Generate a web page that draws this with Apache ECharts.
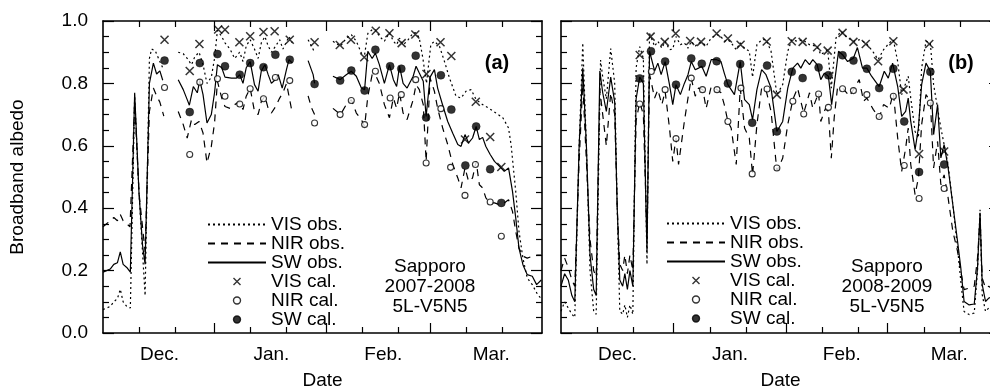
<!DOCTYPE html>
<html>
<head>
<meta charset="utf-8">
<script src="https://cdn.jsdelivr.net/npm/echarts@6/dist/echarts.min.js"></script>
<style>
html, body { margin: 0; padding: 0; background: #fff; }
#chart { width: 990px; height: 390px; }
</style>
</head>
<body>
<div id="chart"></div>
<script>
// days counted from 1 Dec; '-' = no observation
var monthNames = ['Dec.', 'Jan.', 'Feb.', 'Mar.'];
var labelDaysA = [15.7, 46.8, 77.9, 107.9];
var labelDaysB = [15.6, 46.6, 77.4, 107];
var minorTicksA = [10, 20, 41, 51, 72, 82, 101, 111];
var majorTicksA = [31, 62, 91];
var minorTicksB = [10, 20, 41, 51, 72, 82, 100, 110];
var majorTicksB = [31, 62, 90];
var seriesNames = ['VIS obs.', 'NIR obs.', 'SW obs.', 'VIS cal.', 'NIR cal.', 'SW cal.'];

// ---- 2007-2008 (a)
var swObsA = [[0,0.195],[1,0.2],[2,0.205],[3,0.22],[4,0.225],[4.8,0.26],[5.6,0.22],[6.6,0.21],[7.6,0.195],[8.8,0.77],[10,0.45],[11,0.28],[11.7,0.22],[12.9,0.8],[14,0.865],[14.9,0.83],[15.8,0.84],[16.6,0.81],[18,'-'],
  [20.9,0.812],[22.3,0.78],[23.4,0.748],[24,0.73],[25.1,0.79],[26.2,0.77],[26.9,0.81],[27.8,0.764],[28.9,0.673],[30.1,0.7],[31,0.77],[31.8,0.86],[33,0.85],[33.9,0.82],[35.7,0.817],[37.1,0.817],[38,0.828],[38.9,0.8],[39.8,0.85],[40.9,0.87],[42.1,0.796],[43.1,0.775],[44,0.84],[45,0.86],[45.9,0.828],[46.8,0.8],[47.7,0.81],[48.7,0.828],[49.8,0.785],[51,0.845],[51.7,0.876],[52.6,0.865],[54,'-'],[57,0.873],[58.4,0.828],[58.8,0.8],[61,'-'],
  [63.9,0.823],[65.9,0.812],[67.6,0.828],[69,0.839],[70.4,0.823],[71.8,0.785],[72.7,0.78],[73.6,0.903],[74.8,0.88],[75.7,0.897],[76.8,0.86],[78.2,0.8],[79.6,0.86],[80.7,0.812],[81.6,0.79],[82.4,0.855],[83.4,0.8],[84.5,0.785],[86.2,0.823],[87,0.855],[87.9,0.833],[89,0.807],[89.8,0.694],[90.9,0.82],[92.1,0.844],[93,0.785],[94.4,0.73],[95.8,0.678],[97.2,0.64],[98.6,0.604],[99.5,0.598],[100.6,0.636],[101.6,0.609],[102.7,0.625],[103.7,0.662],[104.6,0.62],[105.5,0.627],[106.4,0.598],[107.6,0.572],[108.8,0.55],[110.2,0.534],[111.5,0.518],[112.7,0.529],[113.8,0.454],[114.7,0.369],[115.6,0.272],[116.7,0.219],[117.9,0.187],[119.3,0.182],[120.5,0.155],[121.8,0.17]];
var nirObsA = [[0,0.34],[1,0.35],[2,0.36],[3,0.37],[4,0.36],[4.8,0.38],[5.6,0.36],[6.6,0.35],[7.5,0.34],[8.8,0.74],[10,0.45],[11.7,0.26],[12.9,0.71],[14,0.785],[14.9,0.76],[15.8,0.74],[16.9,0.695],[18,'-'],
  [20.9,0.71],[22.3,0.668],[23.4,0.625],[24.6,0.684],[25.5,0.668],[26.7,0.678],[27.8,0.641],[28.9,0.545],[30.1,0.598],[31,0.673],[31.8,0.807],[33,0.753],[33.9,0.726],[35.3,0.72],[36.6,0.732],[38,0.742],[38.9,0.716],[39.8,0.759],[40.9,0.785],[42.1,0.71],[43.1,0.7],[44,0.742],[45,0.759],[45.9,0.72],[46.8,0.705],[48,0.726],[49.1,0.753],[50,0.77],[51,0.8],[52.6,0.705],[54,'-'],[57,0.76],[58,0.72],[58.8,0.7],[61,'-'],
  [63.9,0.72],[66,0.7],[67.6,0.732],[69,0.748],[70.4,0.705],[71.8,0.684],[72.7,0.662],[73.6,0.759],[74.8,0.828],[75.7,0.828],[76.8,0.8],[78.2,0.732],[79.6,0.69],[80.7,0.753],[81.6,0.72],[82.4,0.77],[83.4,0.705],[84.5,0.684],[86.2,0.748],[87,0.796],[87.9,0.78],[89,0.732],[89.8,0.55],[90.9,0.817],[92.1,0.775],[93,0.72],[94.4,0.657],[95.8,0.604],[97.2,0.54],[98.6,0.497],[99.5,0.465],[100.6,0.529],[101.6,0.486],[102.7,0.497],[103.7,0.55],[104.6,0.475],[105.5,0.465],[106.4,0.433],[107.6,0.417],[108.8,0.417],[110.2,0.411],[111.5,0.417],[112.7,0.427],[113.8,0.39],[114.7,0.326],[115.6,0.272],[116.7,0.246],[117.9,0.24],[119.3,0.246],[120.8,0.25],[121.8,0.25]];
var visObsA = [[0,0.075],[1,0.08],[2,0.085],[3,0.1],[4,0.11],[4.8,0.14],[5.6,0.1],[6.6,0.085],[7.6,0.08],[8.8,0.76],[10,0.45],[11.7,0.12],[12.9,0.88],[13.5,0.91],[14.5,0.905],[15.8,0.87],[16.6,0.85],[18,'-'],
  [20.9,0.9],[22.3,0.895],[23.4,0.88],[24.6,0.86],[25.5,0.885],[26.7,0.9],[27.8,0.86],[28.9,0.8],[30.1,0.82],[31,0.88],[31.8,0.97],[33,0.95],[33.9,0.93],[35.3,0.91],[36.6,0.88],[38,0.9],[38.9,0.87],[39.8,0.92],[40.9,0.94],[42.1,0.91],[43.1,0.88],[44,0.93],[45,0.95],[45.9,0.92],[46.8,0.9],[48,0.92],[49.1,0.94],[50,0.91],[51.7,0.95],[52.6,0.93],[54,'-'],[57,0.94],[58.8,0.9],[61,'-'],
  [63.9,0.935],[66,0.919],[67.6,0.945],[69,0.956],[70.4,0.935],[71.8,0.897],[72.7,0.892],[73.6,0.96],[74.8,0.972],[75.7,0.972],[76.8,0.951],[78.2,0.935],[79.6,0.962],[80.7,0.935],[81.6,0.924],[82.4,0.945],[83.4,0.924],[84.5,0.935],[86.2,0.962],[87,0.962],[87.9,0.945],[88.9,0.88],[89.9,0.8],[91.1,0.924],[92.1,0.935],[93.5,0.919],[94.9,0.87],[96.3,0.817],[98.1,0.759],[99.5,0.753],[100.9,0.775],[102.3,0.78],[103.7,0.748],[105.5,0.732],[107.3,0.72],[109.2,0.705],[111.1,0.69],[112.7,0.657],[113.4,0.604],[114.7,0.454],[115.6,0.326],[116.7,0.24],[117.9,0.176],[119.3,0.155],[120.8,0.123],[121.8,0.11]];
var visCalA = [[17.1,0.94],[24.1,0.84],[26.8,0.926],[32,0.973],[33.9,0.972],[37.9,0.932],[40.9,0.951],[44.6,0.965],[47.7,0.967],[51.9,0.94],[58.8,0.932],[65.8,0.923],[68.9,0.94],[72.6,0.884],[75.8,0.969],[79.6,0.961],[83,0.929],[86.8,0.957],[89.9,0.83],[93.8,0.932],[96.8,0.888],[100.6,0.62],[103.6,0.741],[107.6,0.628],[110.7,0.532]];
var nirCalA = [[17.1,0.787],[24.1,0.572],[26.9,0.804],[31.8,0.815],[33.9,0.759],[38,0.734],[40.9,0.783],[44.6,0.751],[47.9,0.819],[51.9,0.809],[58.8,0.673],[65.9,0.7],[69,0.745],[72.7,0.668],[75.7,0.839],[79.8,0.753],[82.9,0.764],[86.9,0.812],[89.8,0.545],[93.9,0.719],[96.6,0.531],[100.6,0.441],[103.5,0.54],[107.6,0.42],[110.7,0.31]];
var swCalA = [[17.1,0.873],[24.1,0.708],[26.9,0.865],[31.8,0.894],[33.9,0.855],[38,0.828],[40.9,0.865],[44.6,0.852],[47.9,0.892],[51.9,0.876],[58.8,0.798],[65.9,0.809],[69,0.841],[72.7,0.777],[75.7,0.908],[79.8,0.855],[82.9,0.847],[86.9,0.889],[89.8,0.691],[93.9,0.826],[96.8,0.716],[100.7,0.537],[103.7,0.662],[107.6,0.525],[110.7,0.417]];

// ---- 2008-2009 (b)
var swObsB = [[0,0.15],[1,0.19],[2,0.17],[3,0.12],[3.8,0.1],[5,0.6],[6,0.85],[7,0.6],[8,0.25],[9,0.14],[9.7,0.12],[10.7,0.84],[11.5,0.77],[12.5,0.71],[13.7,0.82],[14.8,0.74],[15.5,0.4],[16.2,0.17],[17,0.15],[17.6,0.19],[18.3,0.14],[19,0.2],[19.8,0.15],[20.7,0.75],[21.7,0.82],[22.7,0.8],[23.7,0.26],[24.4,0.903],[25.8,0.84],[26.7,0.865],[27.6,0.828],[28.7,0.87],[29.9,0.796],[30.8,0.732],[31.7,0.796],[32.9,0.764],[34,0.8],[35,0.828],[35.9,0.87],[37,0.844],[37.9,0.849],[38.8,0.855],[40,0.823],[41.4,0.876],[42.9,0.876],[44.1,0.87],[45,0.833],[46,0.796],[46.9,0.78],[47.8,0.764],[49.4,0.87],[50.6,0.748],[51.9,0.732],[52.8,0.684],[54,0.78],[55.3,0.844],[56.5,0.828],[57.9,0.785],[59.5,0.646],[61.1,0.678],[62.5,0.785],[63.9,0.849],[65.2,0.865],[66.1,0.849],[67.3,0.876],[68.5,0.86],[69.4,0.876],[70.6,0.86],[71.6,0.812],[72.6,0.833],[73.7,0.823],[74.6,0.732],[76.5,0.903],[77.6,0.892],[79,0.87],[80.6,0.881],[81.7,0.915],[83.1,0.849],[84.3,0.849],[85.6,0.823],[87.7,0.79],[89.1,0.839],[90.2,0.817],[91.4,0.865],[92.8,0.79],[93.9,0.694],[95,0.71],[95.7,0.753],[96.4,0.678],[97.6,0.588],[98.5,0.657],[99.4,0.796],[100.6,0.865],[101.8,0.839],[102.7,0.636],[103.8,0.732],[104.7,0.561],[105.6,0.604],[106.7,0.529],[108,0.411],[109.3,0.294],[110.2,0.208],[111.1,0.101],[112.5,0.09],[113.9,0.093],[114.8,0.208],[115.5,0.385],[116.1,0.155],[117,0.101],[117.9,0.112],[118.9,0.115]];
var nirObsB = [[0,0.2],[1,0.24],[2,0.21],[3,0.17],[3.8,0.15],[5,0.55],[6,0.8],[7,0.55],[8,0.3],[9,0.2],[9.7,0.18],[10.7,0.78],[11.5,0.7],[12.5,0.6],[13.7,0.77],[14.8,0.7],[15.5,0.4],[16.2,0.22],[17,0.2],[17.6,0.25],[18.3,0.19],[19,0.25],[19.8,0.2],[20.7,0.68],[21.7,0.74],[22.7,0.7],[23.7,0.3],[24.4,0.83],[25.8,0.753],[26.7,0.78],[27.8,0.732],[28.7,0.775],[29.9,0.657],[30.8,0.55],[31.7,0.625],[32.4,0.54],[34,0.678],[35,0.753],[35.9,0.817],[37,0.759],[37.9,0.785],[39.1,0.78],[40,0.72],[41.4,0.79],[43,0.78],[44.1,0.77],[45,0.732],[46,0.678],[46.9,0.657],[48.3,0.54],[49.4,0.785],[50.6,0.657],[51.9,0.625],[52.8,0.507],[54,0.668],[55.3,0.785],[56.5,0.78],[57.9,0.71],[59.5,0.52],[61.1,0.56],[62.5,0.668],[63.9,0.748],[65.2,0.785],[66.9,0.705],[68.5,0.77],[69.4,0.72],[71,0.77],[71.6,0.678],[72.9,0.72],[73.7,0.71],[74.5,0.56],[75.3,0.69],[76.2,0.785],[77.6,0.785],[79.5,0.759],[80.6,0.78],[82.2,0.812],[83.4,0.743],[84.3,0.753],[86.1,0.716],[87.7,0.69],[88.9,0.732],[90.5,0.72],[91.6,0.77],[92.8,0.625],[93.9,0.518],[95,0.593],[95.7,0.657],[96.4,0.54],[97.6,0.443],[98.5,0.497],[99.4,0.668],[100.6,0.764],[101.8,0.743],[102.7,0.529],[103.8,0.614],[104.7,0.475],[105.6,0.507],[106.7,0.433],[108,0.326],[109.3,0.262],[110.2,0.198],[111.1,0.139],[112.5,0.144],[113.9,0.15],[114.8,0.24],[115.5,0.369],[116.1,0.176],[117,0.144],[117.9,0.15],[118.9,0.14]];
var visObsB = [[0,0.07],[1,0.1],[2,0.08],[3,0.06],[3.8,0.05],[5,0.6],[6,0.93],[7,0.6],[8,0.2],[9,0.07],[9.7,0.06],[10.9,0.875],[11.5,0.82],[12.5,0.75],[13.7,0.912],[14.8,0.8],[15.5,0.4],[16.2,0.07],[17,0.06],[17.6,0.09],[18.3,0.05],[19,0.09],[19.8,0.06],[20.7,0.85],[21.7,0.918],[22.7,0.88],[23.7,0.22],[24.4,0.96],[25.8,0.919],[26.7,0.935],[27.8,0.913],[28.7,0.935],[29.9,0.908],[30.8,0.91],[31.7,0.95],[32.9,0.924],[34,0.93],[35,0.913],[35.9,0.935],[37,0.919],[37.9,0.93],[39.1,0.93],[40,0.919],[41.4,0.946],[43,0.956],[44.1,0.95],[45,0.935],[46,0.94],[46.9,0.93],[48.3,0.908],[49.4,0.93],[50.6,0.913],[51.9,0.903],[52.8,0.82],[54,0.924],[55.3,0.94],[56.5,0.94],[57.9,0.903],[59.5,0.764],[61.1,0.796],[62.5,0.903],[63.6,0.94],[65.2,0.935],[66.6,0.94],[68.5,0.924],[70.6,0.919],[71.6,0.892],[73.5,0.908],[74.5,0.785],[75.8,0.946],[77.2,0.967],[79,0.946],[80.6,0.935],[82.2,0.94],[84,0.93],[85.9,0.903],[87.4,0.876],[88.9,0.908],[90.5,0.93],[91.6,0.94],[92.8,0.87],[93.9,0.764],[95,0.8],[95.7,0.823],[96.4,0.753],[97.6,0.646],[98.5,0.625],[99.4,0.849],[100.6,0.935],[101.8,0.93],[102.7,0.796],[103.8,0.72],[104.7,0.657],[105.6,0.604],[106.7,0.54],[108,0.411],[109.3,0.272],[110.2,0.166],[111.1,0.069],[112.5,0.059],[113.9,0.064],[114.8,0.198],[115.5,0.395],[116.1,0.123],[117,0.069],[117.9,0.08],[118.9,0.07]];
var visCalB = [[21.7,0.891],[24.7,0.95],[28.6,0.933],[31.6,0.96],[35.6,0.936],[38.6,0.933],[42.9,0.96],[46,0.944],[49.5,0.924],[56.7,0.934],[59.5,0.764],[63.6,0.935],[66.6,0.933],[70.6,0.916],[73.5,0.905],[77.6,0.962],[80.6,0.933],[84,0.926],[87.4,0.871],[91.6,0.935],[94.4,0.78],[98.7,0.574],[101.5,0.926],[105.6,0.582]];
var nirCalB = [[21.7,0.734],[24.9,0.838],[28.7,0.78],[31.7,0.623],[35.9,0.817],[39,0.78],[43,0.78],[46,0.678],[49.6,0.785],[52.7,0.51],[56.8,0.782],[59.5,0.529],[63.9,0.743],[66.9,0.702],[71,0.766],[73.7,0.723],[77.6,0.783],[80.6,0.777],[84.3,0.764],[87.7,0.694],[91.6,0.759],[94.6,0.537],[98.7,0.431],[101.8,0.737],[105.6,0.463]];
var swCalB = [[21.7,0.816],[24.8,0.903],[28.7,0.87],[31.7,0.796],[35.9,0.88],[38.8,0.863],[42.9,0.871],[46,0.8],[49.4,0.862],[52.7,0.674],[56.8,0.857],[59.5,0.646],[63.6,0.837],[66.6,0.817],[71,0.851],[73.7,0.826],[77.6,0.89],[80.6,0.873],[84.3,0.847],[87.7,0.785],[91.6,0.847],[94.6,0.678],[98.7,0.516],[101.8,0.837],[105.6,0.54]];

var FONT = '"Liberation Sans", Arial, Helvetica, sans-serif';
var BLACK = '#000';
var axisLine = { show: true, onZero: false, lineStyle: { color: BLACK, width: 1.6 } };
var tickLine = { color: BLACK, width: 1.2 };

function xAxesFor(g, maxDay, minor, major, labelDays) {
    var base = {
        type: 'value', gridIndex: g, min: 0, max: maxDay,
        splitLine: { show: false }, axisLabel: { show: false }
    };
    var main = Object.assign({}, base, {
        position: 'bottom',
        axisLine: axisLine,
        axisTick: { show: true, inside: true, length: 6, customValues: minor, lineStyle: tickLine },
        axisLabel: {
            show: true, customValues: labelDays, margin: 12,
            color: BLACK, fontSize: 19, fontFamily: FONT,
            formatter: function (v) { return monthNames[labelDays.indexOf(v)]; }
        },
        name: 'Date', nameLocation: 'middle', nameGap: 38, nameMoveOverlap: false,
        nameTextStyle: { color: BLACK, fontSize: 19, fontFamily: FONT }
    });
    var mainMajor = Object.assign({}, base, {
        position: 'bottom', axisLine: { show: false, onZero: false },
        axisTick: { show: true, inside: true, length: 10, customValues: major, lineStyle: tickLine }
    });
    var top = Object.assign({}, base, {
        position: 'top', axisLine: axisLine,
        axisTick: { show: true, inside: true, length: 6, customValues: minor, lineStyle: tickLine }
    });
    var topMajor = Object.assign({}, base, {
        position: 'top', axisLine: { show: false, onZero: false },
        axisTick: { show: true, inside: true, length: 10, customValues: major, lineStyle: tickLine }
    });
    return [main, mainMajor, top, topMajor];
}

function yAxesFor(g, withLabels) {
    var base = {
        type: 'value', gridIndex: g, min: 0, max: 1, interval: 0.2,
        axisLine: axisLine,
        axisTick: { show: true, inside: true, length: 11, lineStyle: tickLine },
        minorTick: { show: true, splitNumber: 4, length: 6, lineStyle: tickLine },
        splitLine: { show: false }
    };
    var left = Object.assign({}, base, {
        position: 'left',
        axisLabel: {
            show: withLabels, margin: 15, color: BLACK, fontSize: 19, fontFamily: FONT,
            formatter: function (v) { return v.toFixed(1); }
        }
    });
    if (withLabels) {
        left.name = 'Broadband albedo';
        left.nameLocation = 'middle';
        left.nameGap = 76;
        left.nameMoveOverlap = false;
        left.nameTextStyle = { color: BLACK, fontSize: 19, fontFamily: FONT };
    }
    var right = Object.assign({}, base, { position: 'right', axisLabel: { show: false } });
    return [left, right];
}

function obsLine(name, data, g, dash) {
    return {
        type: 'line', name: name, data: data,
        xAxisIndex: g * 4, yAxisIndex: g * 2,
        symbol: 'none', connectNulls: false, animation: false, z: 2,
        itemStyle: { color: BLACK },
        lineStyle: { color: BLACK, width: 1.2, type: dash }
    };
}

function calPoints(name, data, g, kind) {
    var s = {
        type: 'scatter', name: name, data: data,
        xAxisIndex: g * 4, yAxisIndex: g * 2, animation: false, z: 3
    };
    if (kind === 'x') {
        s.symbol = 'path://M0,0L10,10M10,0L0,10';
        s.symbolSize = 8;
        s.itemStyle = { color: 'none', borderColor: BLACK, borderWidth: 1.5 };
    } else if (kind === 'o') {
        s.symbol = 'circle';
        s.symbolSize = 6;
        s.itemStyle = { color: '#fff', borderColor: BLACK, borderWidth: 1.1 };
    } else {
        s.symbol = 'circle';
        s.symbolSize = 8;
        s.itemStyle = { color: BLACK, borderColor: BLACK, borderWidth: 0.5 };
    }
    return s;
}

function panelSeries(g, vis, nir, sw, visC, nirC, swC) {
    return [
        obsLine(seriesNames[0], vis, g, [2, 3]),
        obsLine(seriesNames[1], nir, g, [7, 6]),
        obsLine(seriesNames[2], sw, g, 'solid'),
        calPoints(seriesNames[3], visC, g, 'x'),
        calPoints(seriesNames[4], nirC, g, 'o'),
        calPoints(seriesNames[5], swC, g, 'dot')
    ];
}

function legendAt(left, top) {
    // line entries: hide the marker ECharts puts in the middle of a line icon
    var items = seriesNames.map(function (n, i) {
        return i < 3 ? { name: n, itemStyle: { opacity: 0 } } : { name: n };
    });
    return {
        left: left, top: top, orient: 'vertical',
        itemWidth: 58, itemHeight: 7, itemGap: 0,
        selectedMode: false, data: items,
        itemStyle: { borderWidth: 1.4 },
        textStyle: { color: BLACK, fontSize: 19, fontFamily: FONT, lineHeight: 18.6 }
    };
}

function label(x, y, text, font) {
    return {
        type: 'text', x: x, y: y, z: 10,
        style: { text: text, font: font, fill: BLACK, align: 'center', verticalAlign: 'middle', lineHeight: 20 }
    };
}

var myChart = echarts.init(document.getElementById('chart'), null, { renderer: 'canvas' });
var option = {
    backgroundColor: '#fff',
    animation: false,
    grid: [
        { left: 103, top: 21, width: 439, height: 312, outerBoundsMode: 'none' },
        { left: 561, top: 21, width: 439, height: 312, outerBoundsMode: 'none' }
    ],
    xAxis: xAxesFor(0, 122, minorTicksA, majorTicksA, labelDaysA)
        .concat(xAxesFor(1, 121, minorTicksB, majorTicksB, labelDaysB)),
    yAxis: yAxesFor(0, true).concat(yAxesFor(1, false)),
    legend: [legendAt(202, 210), legendAt(661, 209)],
    graphic: [
        label(430, 287, 'Sapporo\n2007-2008\n5L-V5N5', '19px ' + FONT),
        label(887, 287, 'Sapporo\n2008-2009\n5L-V5N5', '19px ' + FONT),
        label(497, 63, '(a)', 'bold 20px ' + FONT),
        label(961, 63, '(b)', 'bold 20px ' + FONT)
    ],
    series: panelSeries(0, visObsA, nirObsA, swObsA, visCalA, nirCalA, swCalA)
        .concat(panelSeries(1, visObsB, nirObsB, swObsB, visCalB, nirCalB, swCalB))
};
myChart.setOption(option);
</script>
</body>
</html>
